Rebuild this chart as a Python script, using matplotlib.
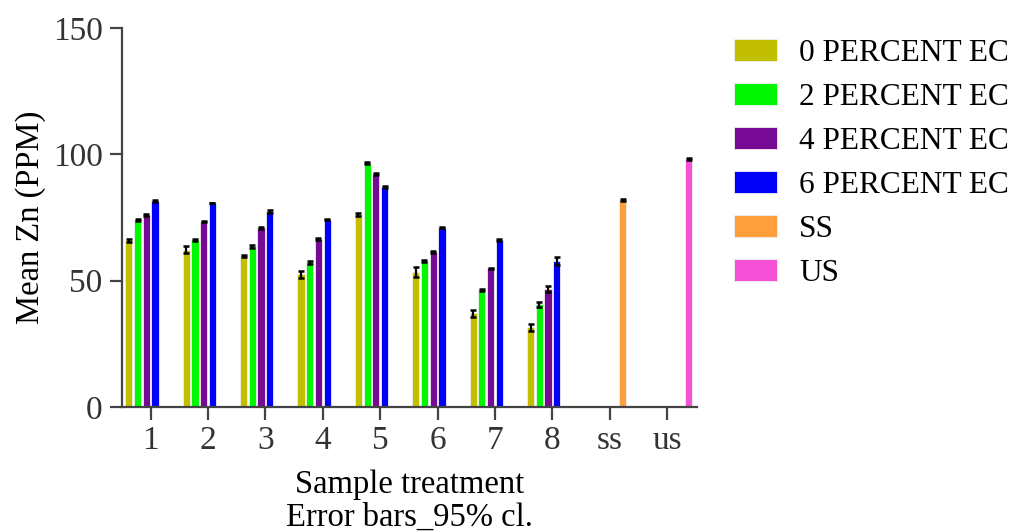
import matplotlib
matplotlib.use("Agg")
import matplotlib.pyplot as plt
import numpy as np

plt.rcParams['font.family'] = ['Liberation Serif', 'DejaVu Serif']

categories = ['1', '2', '3', '4', '5', '6', '7', '8', 'ss', 'us']
series = ['0 PERCENT EC', '2 PERCENT EC', '4 PERCENT EC', '6 PERCENT EC', 'SS', 'US']
colors = ['#c2bf00', '#00f700', '#770a94', '#0000f8', '#ff9e3d', '#f550d6']

# means for treatments 1..8
ec0 = [66.0, 62.3, 59.8, 52.5, 76.3, 53.5, 37.2, 31.5]
ec2 = [74.2, 66.2, 63.7, 57.3, 96.6, 57.8, 46.2, 40.7]
ec4 = [75.9, 73.4, 70.8, 66.4, 92.4, 61.3, 54.9, 46.8]
ec6 = [81.5, 80.6, 77.5, 74.2, 87.1, 71.0, 66.3, 57.9]
# 95% cl half widths
ec0_err = [0.5, 1.5, 0.4, 1.5, 0.6, 2.0, 1.4, 1.5]
ec2_err = [0.4, 0.4, 0.6, 0.6, 0.4, 0.4, 0.4, 1.0]
ec4_err = [0.4, 0.3, 0.3, 0.4, 0.4, 0.3, 0.3, 1.3]
ec6_err = [0.5, 0.0, 0.5, 0.3, 0.3, 0.3, 0.4, 1.6]
ss = 82.0
us = 98.1
ss_err = 0.3
us_err = 0.3

fig = plt.figure(figsize=(10.14, 5.32), dpi=100)
ax = fig.add_axes([0.1203, 0.235, 0.567, 0.712])

x = np.arange(len(categories))
step = 0.152
width = 0.125
eb = dict(ecolor='black', elinewidth=1.6, capsize=2.2, capthick=1.8)

groups = [(ec0, ec0_err), (ec2, ec2_err), (ec4, ec4_err), (ec6, ec6_err)]
for i, (vals, errs) in enumerate(groups):
    ax.bar(x[:8] + (i - 2.5) * step, vals, width, yerr=errs, color=colors[i],
           edgecolor='#f0f0f0', linewidth=0.6, label=series[i], error_kw=eb)
ax.bar(x[8] + 1.5 * step, ss, width, yerr=ss_err, color=colors[4],
       edgecolor='#f0f0f0', linewidth=0.6, label=series[4], error_kw=eb)
ax.bar(x[9] + 2.5 * step, us, width, yerr=us_err, color=colors[5],
       edgecolor='#f0f0f0', linewidth=0.6, label=series[5], error_kw=eb)

ax.set_xlim(-0.5, 9.52)
ax.set_ylim(0, 150)
ax.set_yticks([0, 50, 100, 150])
ax.set_xticks(x)
ax.set_xticklabels(categories)

for s in ['top', 'right']:
    ax.spines[s].set_visible(False)
for s in ['left', 'bottom']:
    ax.spines[s].set_color('#444444')
    ax.spines[s].set_linewidth(1.6)
ax.tick_params(axis='both', colors='#444444', width=1.6, length=9,
               labelsize=24, labelcolor='#333333', pad=4)
ax.tick_params(axis='y', pad=5)

ax.set_ylabel('Mean Zn (PPM)', fontsize=23.5, color='black', labelpad=5)
ax.set_xlabel('Sample treatment\nError bars_95% cl.', fontsize=23.5,
              color='black', labelpad=10, linespacing=1.12)

ax.legend(loc='upper left', bbox_to_anchor=(1.021, 1.037), frameon=False,
          fontsize=22.5, handlelength=1.38, handleheight=0.72,
          handletextpad=0.7, labelspacing=0.475, borderpad=0.3)

fig.savefig('out.png', dpi=100)
